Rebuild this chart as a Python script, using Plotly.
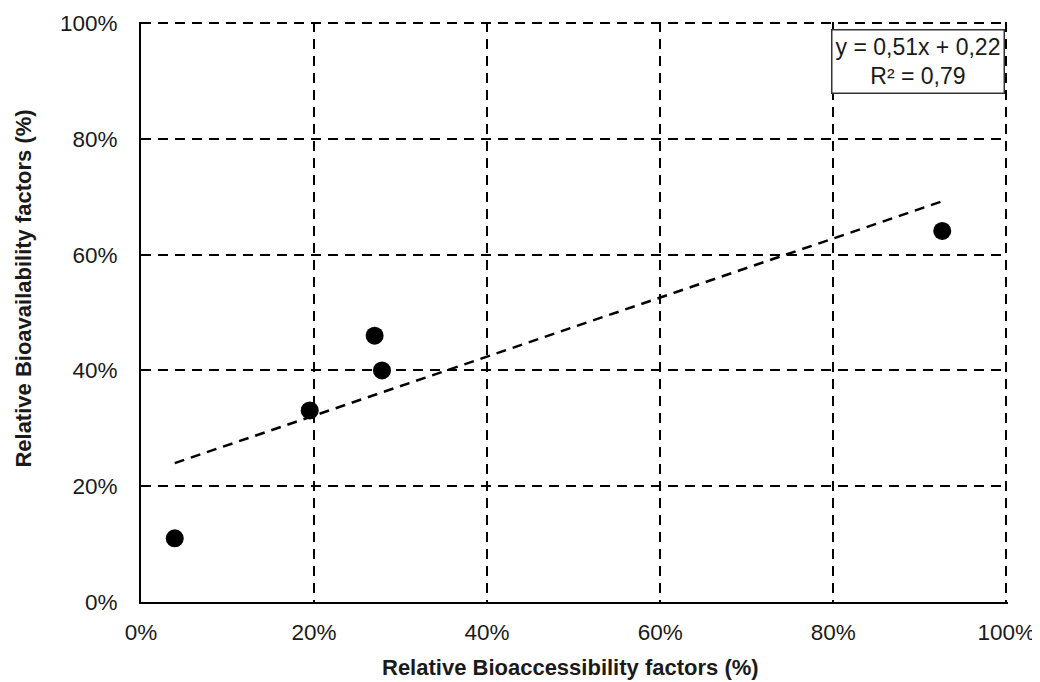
import plotly.graph_objects as go

bioaccessibility = [0.039, 0.195, 0.270, 0.2785, 0.926]
bioavailability = [0.110, 0.331, 0.460, 0.400, 0.641]
slope = 0.51
intercept = 0.22
equation_text = "y = 0,51x + 0,22<br>R² = 0,79"
x_title = "<b>Relative Bioaccessibility factors (%)</b>"
y_title = "<b>Relative Bioavailability factors (%)</b>"
tick_vals = [0, 0.2, 0.4, 0.6, 0.8, 1.0]
tick_text = ["0%", "20%", "40%", "60%", "80%", "100%"]

x_fit = [min(bioaccessibility), max(bioaccessibility)]
y_fit = [slope * v + intercept for v in x_fit]

FONT = "Liberation Sans, Arial, sans-serif"
TXT = "#1a1a1a"

fig = go.Figure()
fig.add_trace(go.Scatter(x=x_fit, y=y_fit, mode="lines",
                         line=dict(color="black", width=2.5, dash="10px,7px"),
                         showlegend=False, hoverinfo="skip"))
fig.add_trace(go.Scatter(x=bioaccessibility, y=bioavailability, mode="markers",
                         marker=dict(color="black", size=18),
                         showlegend=False))

axis_common = dict(
    range=[0, 1.002], tickvals=tick_vals, ticktext=tick_text,
    showgrid=True, gridcolor="black", gridwidth=2, griddash="10px,7px",
    showline=True, linecolor="black", linewidth=2, zeroline=False,
    ticks="", automargin=False,
    tickfont=dict(family=FONT, size=22.5, color=TXT),
)

fig.update_layout(
    width=1032, height=674,
    margin=dict(l=133, r=32, t=14, b=80),
    plot_bgcolor="white", paper_bgcolor="white",
    xaxis=dict(**axis_common, ticklabelstandoff=9),
    yaxis=dict(**axis_common, ticklabelstandoff=17),
    annotations=[
        dict(text=equation_text, xref="paper", yref="paper", x=0.9965, y=0.988,
             xanchor="right", yanchor="top", showarrow=False, align="center",
             font=dict(family=FONT, size=23, color=TXT),
             bordercolor="#333", borderwidth=1.5, borderpad=3, bgcolor="white"),
        dict(text=x_title, xref="paper", yref="paper", x=0.495, y=-0.113,
             xanchor="center", yanchor="middle", showarrow=False,
             font=dict(family=FONT, size=22, color=TXT)),
        dict(text=y_title, xref="paper", yref="paper", x=-0.136, y=0.5405,
             xanchor="center", yanchor="middle", showarrow=False, textangle=-90,
             font=dict(family=FONT, size=22, color=TXT)),
    ],
)

fig.write_html("out.html")
